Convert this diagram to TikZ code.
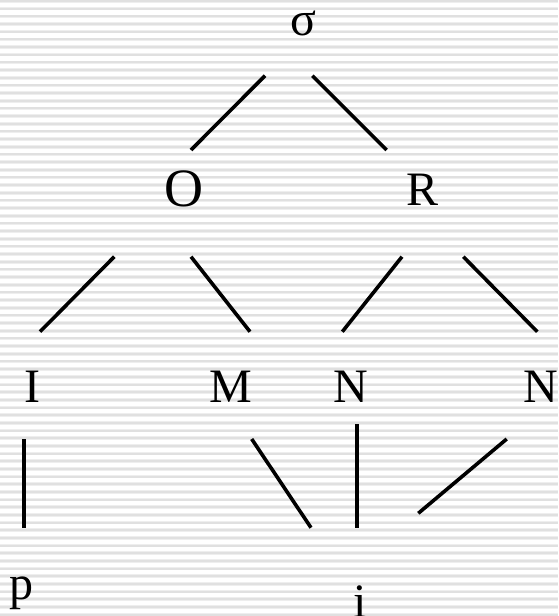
\documentclass[tikz,border=0pt]{standalone}
\usepackage{fontspec}
\setmainfont{Liberation Serif}
\definecolor{stripe}{RGB}{224,224,224}
\definecolor{stripeedge}{RGB}{238,238,238}
\begin{document}
\begin{tikzpicture}[x=1pt,y=-1pt,
  lbl/.style={inner sep=0pt,anchor=base,font=\fontsize{48}{58}\selectfont},
  big/.style={inner sep=0pt,anchor=base,font=\fontsize{54}{64}\selectfont},
  edge/.style={line width=3.6pt,black}]
\useasboundingbox (0,0) rectangle (558,616);
\fill[white] (0,0) rectangle (558,616);
\foreach \i in {0,...,80}{
  \draw[stripeedge,line width=3.6pt] (0,1+7.67*\i) -- (558,1+7.67*\i);
  \draw[stripe,line width=2pt] (0,1+7.67*\i) -- (558,1+7.67*\i);
}
% nodes
\node[lbl] (s) at (303.5,35.7) {σ};
\node[big] (O) at (183.6,206.8) {O};
\node[lbl] (R) at (423,205.7) {R};
\node[lbl] (I) at (32,402) {I};
\node[lbl] (M) at (230.7,402) {M};
\node[lbl] (N1) at (350.5,402) {N};
\node[lbl] (N2) at (541,402) {N};
\node[lbl] (p) at (21.5,599) {p};
\node[lbl] (i) at (360.5,617) {i};
% connector end points
\coordinate (sO1) at (265,75.7);  \coordinate (sO2) at (191,150);
\coordinate (sR1) at (312.3,75.7); \coordinate (sR2) at (386.7,150);
\coordinate (OI1) at (114.3,256.7); \coordinate (OI2) at (40,331.7);
\coordinate (OM1) at (191,256.7); \coordinate (OM2) at (250,331.7);
\coordinate (RN1a) at (402,256.7); \coordinate (RN1b) at (342.3,331.7);
\coordinate (RN2a) at (463.3,256.7); \coordinate (RN2b) at (537.3,331.7);
\coordinate (Ip1) at (24,439); \coordinate (Ip2) at (24,528.3);
\coordinate (Mi1) at (251.7,439); \coordinate (Mi2) at (311,527.7);
\coordinate (N1i1) at (356.7,424); \coordinate (N1i2) at (356.7,528);
\coordinate (N2i1) at (506.7,439); \coordinate (N2i2) at (418.3,513.3);
\draw[edge] (sO1) -- (sO2);
\draw[edge] (sR1) -- (sR2);
\draw[edge] (OI1) -- (OI2);
\draw[edge] (OM1) -- (OM2);
\draw[edge] (RN1a) -- (RN1b);
\draw[edge] (RN2a) -- (RN2b);
\draw[edge] (Ip1) -- (Ip2);
\draw[edge] (Mi1) -- (Mi2);
\draw[edge] (N1i1) -- (N1i2);
\draw[edge] (N2i1) -- (N2i2);
\end{tikzpicture}
\end{document}
